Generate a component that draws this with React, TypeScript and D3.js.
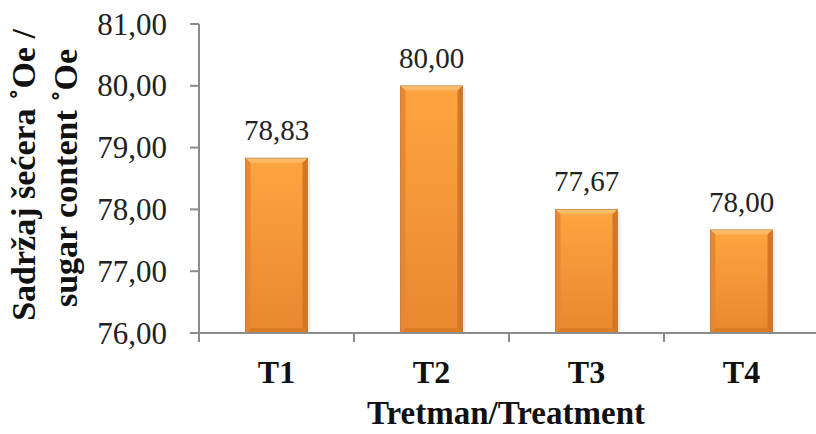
import React from 'react';
import { scaleBand, scaleLinear } from 'd3';

const categories = ['T1', 'T2', 'T3', 'T4'];
const values = [78.83, 80.0, 78.0, 77.67];
const valueLabels = ['78,83', '80,00', '77,67', '78,00'];
const yTicks = [76, 77, 78, 79, 80, 81];
const yTitle = ['Sadržaj šećera ˚Oe /', 'sugar content ˚Oe'];
const xTitle = 'Tretman/Treatment';

const W = 816;
const H = 434;
const margin = { left: 199, top: 24, right: -3, bottom: 101 };

const fmt = (v: number) => v.toFixed(2).replace('.', ',');
const reg = { fontFamily: 'Liberation Serif' };
const bold = { fontFamily: 'Liberation Serif', fontWeight: 700 };

const App: React.FC = () => {
  const x = scaleBand<string>()
    .domain(categories)
    .range([margin.left, W - margin.right])
    .padding(0);
  const y = scaleLinear()
    .domain([76, 81])
    .range([H - margin.bottom, margin.top]);

  const barW = x.step() * 0.4;
  const y0 = y(76);
  const bev = 5;
  const axisColor = '#8c8c8c';

  return (
    <svg
      width={W}
      height={H}
      style={{ position: 'absolute', left: 0, top: 0, display: 'block' }}
    >
      <defs>
        <linearGradient id="barFill" x1="0" y1="0" x2="0" y2="1">
          <stop offset="0" stopColor="#fca540" />
          <stop offset="1" stopColor="#ea872f" />
        </linearGradient>
        <linearGradient id="topBev" x1="0" y1="0" x2="0" y2="1">
          <stop offset="0" stopColor="#fdc77a" />
          <stop offset="1" stopColor="#fbb055" />
        </linearGradient>
      </defs>

      {/* bars */}
      {categories.map((c, i) => {
        const cx = (x(c) ?? 0) + x.bandwidth() / 2;
        const x0 = cx - barW / 2;
        const x1 = cx + barW / 2;
        const top = y(values[i]);
        return (
          <g key={c}>
            <rect x={x1} y={top + 2} width={3} height={y0 - top - 2} fill="#000" opacity={0.07} />
            <rect x={x0} y={top} width={barW} height={y0 - top} fill="url(#barFill)" />
            <polygon
              points={`${x0},${top} ${x1},${top} ${x1 - bev},${top + bev} ${x0 + bev},${top + bev}`}
              fill="url(#topBev)"
            />
            <polygon
              points={`${x0},${top} ${x0 + bev},${top + bev} ${x0 + bev},${y0 - bev} ${x0},${y0}`}
              fill="#e8872f"
            />
            <polygon
              points={`${x1},${top} ${x1 - bev},${top + bev} ${x1 - bev},${y0 - bev} ${x1},${y0}`}
              fill="#d37626"
            />
            <polygon
              points={`${x0},${y0} ${x0 + bev},${y0 - bev} ${x1 - bev},${y0 - bev} ${x1},${y0}`}
              fill="#dc7d26"
            />
            <rect x={x0} y={top} width={barW} height={y0 - top} fill="none" stroke="#a85a18" strokeWidth={1} opacity={0.5} />
            <text x={cx} y={top - 18} textAnchor="middle" fontSize={29} fill="#222" style={reg}>
              {valueLabels[i]}
            </text>
          </g>
        );
      })}

      {/* y axis */}
      <line x1={margin.left} x2={margin.left} y1={y(81)} y2={y0} stroke={axisColor} strokeWidth={2} />
      {yTicks.map((t) => (
        <g key={t}>
          <line x1={margin.left - 9} x2={margin.left} y1={y(t)} y2={y(t)} stroke={axisColor} strokeWidth={2} />
          <text x={167} y={y(t) + 10.5} textAnchor="end" fontSize={31} fill="#222" style={reg}>
            {fmt(t)}
          </text>
        </g>
      ))}

      {/* x axis */}
      <line x1={margin.left - 9} x2={W} y1={y0} y2={y0} stroke={axisColor} strokeWidth={2} />
      {categories.map((c) => (
        <line key={c} x1={x(c) ?? 0} x2={x(c) ?? 0} y1={y0} y2={y0 + 9} stroke={axisColor} strokeWidth={2} />
      ))}
      {categories.map((c) => (
        <text
          key={c}
          x={(x(c) ?? 0) + x.bandwidth() / 2}
          y={383}
          textAnchor="middle"
          fontSize={32}
          fill="#111"
          style={bold}
        >
          {c}
        </text>
      ))}

      <text x={506} y={424} textAnchor="middle" fontSize={33} fill="#111" style={bold}>
        {xTitle}
      </text>

      <text transform="translate(35,175) rotate(-90)" textAnchor="middle" fontSize={34} fill="#111" style={bold}>
        {yTitle[0]}
      </text>
      <text transform="translate(77,178) rotate(-90)" textAnchor="middle" fontSize={34} fill="#111" style={bold}>
        {yTitle[1]}
      </text>
    </svg>
  );
};

export default App;
